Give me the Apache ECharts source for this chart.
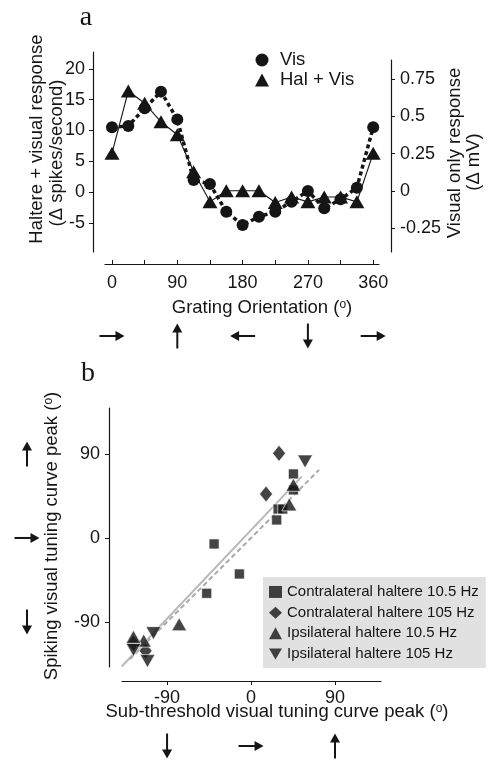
<!DOCTYPE html>
<html><head><meta charset="utf-8">
<script src="https://cdn.jsdelivr.net/npm/echarts@6/dist/echarts.min.js"></script>
<style>html,body{margin:0;padding:0;background:#fff}#c{width:488px;height:760px}</style>
</head><body><div id="c"></div>
<script>
// ---------- Panel a data ----------
const orientations = [0,22.5,45,67.5,90,112.5,135,157.5,180,202.5,225,247.5,270,292.5,315,337.5,360];
const visResponse = [0.427,0.436,0.554,0.666,0.48,0.074,0.047,-0.139,-0.228,-0.172,-0.139,-0.072,0.0,-0.116,-0.056,0.022,0.427];
const halVisResponse = [6.3,16.4,14.4,11.4,9.3,3.3,-1.6,0.2,0.2,0.2,-1.7,-0.8,-1.6,-0.8,-0.8,-1.6,6.3];
const orientationLabels = [0,90,180,270,360];
const orientationTicks = [0,45,90,135,180,225,270,315,360];
const leftTicks = [-5,0,5,10,15,20];
const rightTicks = [-0.25,0,0.25,0.5,0.75];
const orientationArrows = [[0,'right'],[90,'up'],[180,'left'],[270,'down'],[360,'right']];

// ---------- Panel b data ----------
const contra10 = [[-39.6,-6.4],[-12.5,-38.6],[-47.5,-59.3],[27.5,19.3],[29,31],[34,31],[45.4,68.6],[45.4,51.5]];
const contra105 = [[30,90.7],[16.1,47.1],[-126,-113],[-113,-121]];
const ipsi10 = [[45.4,57],[41,36],[-77,-92.5],[-115,-110],[-126,-106]];
const ipsi105 = [[57.9,82],[-104.6,-102],[-126,-120],[-111,-132]];
const fitLine = [[-138.6,-137.8],[54.3,65.7]];
const unityLine = [[-130,-130],[73,73]];
const peakTicks = [-90,0,90];
const peakArrowsX = [[-90,'down'],[0,'right'],[90,'up']];
const peakArrowsY = [[90,'up'],[0,'right'],[-90,'down']];

const SANS = '"Liberation Sans", Arial, Helvetica, sans-serif';
const SERIF = '"Liberation Serif", "Times New Roman", serif';
const INK = '#151515';
const axisText = {color: INK, fontFamily: SANS, fontSize: 18};
const downTri = 'path://M0,0L20,0L10,17Z';

const chart = echarts.init(document.getElementById('c'));

function axisBase(extra) {
  return Object.assign({
    type: 'value',
    splitLine: {show: false},
    axisLine: {show: true, onZero: false, lineStyle: {color: INK, width: 1.2}},
  }, extra);
}

const option = {
  animation: false,
  grid: [
    {left: 105, top: 52, width: 274, height: 200},
    {left: 105, top: 60, width: 274, height: 192},
    {left: 122, top: 408, width: 259, height: 259}
  ],
  xAxis: [
    axisBase({gridIndex: 0, min: -9.65, max: 368, offset: 12,
      axisTick: {show: true, inside: true, length: 4, lineStyle: {color: INK, width: 1}, customValues: orientationTicks},
      axisLabel: Object.assign({show: true, margin: 10, customValues: orientationLabels}, axisText)}),
    axisBase({gridIndex: 1, min: -9.65, max: 368, show: false}),
    axisBase({gridIndex: 2, min: -138.3, max: 139.3, offset: 14,
      axisTick: {show: true, length: 4, lineStyle: {color: INK, width: 1}, customValues: peakTicks},
      axisLabel: Object.assign({show: true, margin: 8, customValues: peakTicks}, axisText)})
  ],
  yAxis: [
    axisBase({gridIndex: 0, position: 'left', min: -9.74, max: 22.73, offset: 12,
      axisTick: {show: true, length: 4, lineStyle: {color: INK, width: 1}, customValues: leftTicks},
      axisLabel: Object.assign({show: true, margin: 8, customValues: leftTicks}, axisText)}),
    axisBase({gridIndex: 1, position: 'right', min: -0.409, max: 0.878, offset: 12,
      axisTick: {show: true, length: 4, lineStyle: {color: INK, width: 1}, customValues: rightTicks},
      axisLabel: Object.assign({show: true, margin: 9, customValues: rightTicks}, axisText)}),
    axisBase({gridIndex: 2, position: 'left', min: -138.3, max: 139.3, offset: 13,
      axisTick: {show: true, length: 4, lineStyle: {color: INK, width: 1}, customValues: peakTicks},
      axisLabel: Object.assign({show: true, margin: 9, customValues: peakTicks}, axisText)})
  ],
  legend: [
    {
      data: [{name: 'Vis', icon: 'circle'}, {name: 'Hal + Vis', icon: 'triangle'}],
      orient: 'vertical', left: 255, top: 50, padding: 0, itemGap: 0,
      itemWidth: 14, itemHeight: 13, selectedMode: false,
      textStyle: {color: INK, fontFamily: SANS, fontSize: 18.5, lineHeight: 20, padding: [0, 0, 0, 6]}
    },
    {
      data: [
        {name: 'Contralateral haltere 10.5 Hz', icon: 'rect'},
        {name: 'Contralateral haltere 105 Hz', icon: 'diamond'},
        {name: 'Ipsilateral haltere 10.5 Hz', icon: 'triangle'},
        {name: 'Ipsilateral haltere 105 Hz', icon: downTri}
      ],
      orient: 'vertical', left: 263, top: 577, padding: [4.6, 7, 3.6, 6], itemGap: 0,
      itemWidth: 13, itemHeight: 12, selectedMode: false,
      backgroundColor: '#e1e1e1',
      itemStyle: {borderWidth: 0},
      textStyle: {color: INK, fontFamily: SANS, fontSize: 15, lineHeight: 20.7}
    }
  ],
  series: [
    {name: 'Vis', type: 'line', xAxisIndex: 1, yAxisIndex: 1,
      data: orientations.map((o, i) => [o, visResponse[i]]),
      symbol: 'circle', symbolSize: 12, showAllSymbol: true,
      itemStyle: {color: INK},
      lineStyle: {color: INK, width: 3.5, type: [4, 3]}},
    {name: 'Hal + Vis', type: 'line', xAxisIndex: 0, yAxisIndex: 0,
      data: orientations.map((o, i) => [o, halVisResponse[i]]),
      symbol: 'triangle', symbolSize: [15, 13], showAllSymbol: true,
      itemStyle: {color: INK},
      lineStyle: {color: INK, width: 1.1}},
    {name: 'fit', type: 'line', xAxisIndex: 2, yAxisIndex: 2, data: fitLine,
      showSymbol: false, symbol: 'none', lineStyle: {color: '#b8b8b8', width: 2}, z: 1},
    {name: 'unity', type: 'line', xAxisIndex: 2, yAxisIndex: 2, data: unityLine,
      showSymbol: false, symbol: 'none', lineStyle: {color: '#a9a9a9', width: 2, type: [5, 3]}, z: 1},
    {name: 'Contralateral haltere 10.5 Hz', type: 'scatter', xAxisIndex: 2, yAxisIndex: 2, data: contra10,
      symbol: 'rect', symbolSize: 10, itemStyle: {color: INK, borderColor: '#fff', borderWidth: 0.8}},
    {name: 'Contralateral haltere 105 Hz', type: 'scatter', xAxisIndex: 2, yAxisIndex: 2, data: contra105,
      symbol: 'diamond', symbolSize: [13, 16], itemStyle: {color: INK, borderColor: '#fff', borderWidth: 0.8}},
    {name: 'Ipsilateral haltere 10.5 Hz', type: 'scatter', xAxisIndex: 2, yAxisIndex: 2, data: ipsi10,
      symbol: 'triangle', symbolSize: [15, 13], itemStyle: {color: INK, borderColor: '#fff', borderWidth: 0.8}},
    {name: 'Ipsilateral haltere 105 Hz', type: 'scatter', xAxisIndex: 2, yAxisIndex: 2, data: ipsi105,
      symbol: downTri, symbolSize: [15, 13], itemStyle: {color: INK, borderColor: '#fff', borderWidth: 0.8}}
  ]
};
chart.setOption(option);

// ---------- decorations: arrows placed through axis scales, and texts ----------
function arrow(cx, cy, dir) {
  const L = 25, hl = 9, hw = 5;
  let shaft, head;
  if (dir === 'right') { shaft = [[cx - L/2, cy], [cx + L/2 - hl + 1, cy]]; head = [[cx + L/2, cy], [cx + L/2 - hl, cy - hw], [cx + L/2 - hl, cy + hw]]; }
  if (dir === 'left')  { shaft = [[cx + L/2, cy], [cx - L/2 + hl - 1, cy]]; head = [[cx - L/2, cy], [cx - L/2 + hl, cy - hw], [cx - L/2 + hl, cy + hw]]; }
  if (dir === 'up')    { shaft = [[cx, cy + L/2], [cx, cy - L/2 + hl - 1]]; head = [[cx, cy - L/2], [cx - hw, cy - L/2 + hl], [cx + hw, cy - L/2 + hl]]; }
  if (dir === 'down')  { shaft = [[cx, cy - L/2], [cx, cy + L/2 - hl + 1]]; head = [[cx, cy + L/2], [cx - hw, cy + L/2 - hl], [cx + hw, cy + L/2 - hl]]; }
  return [
    {type: 'polyline', shape: {points: shaft}, style: {stroke: INK, lineWidth: 2, fill: null}},
    {type: 'polygon', shape: {points: head}, style: {fill: INK}}
  ];
}
const richSup = {s: {fontSize: 12, fontFamily: SANS, fill: INK, verticalAlign: 'top', lineHeight: 7}};
function label(text, x, y, opts) {
  opts = opts || {};
  return {type: 'text', x: x, y: y, rotation: opts.rot || 0,
    style: {text: text, fill: INK, fontFamily: opts.family || SANS, fontSize: opts.size || 18.5,
      textAlign: 'center', textVerticalAlign: 'middle', rich: richSup}};
}

const g = [];
orientationArrows.forEach(([v, d]) => g.push(...arrow(chart.convertToPixel({xAxisIndex: 0}, v), 336, d)));
peakArrowsX.forEach(([v, d]) => g.push(...arrow(chart.convertToPixel({xAxisIndex: 2}, v), 746, d)));
peakArrowsY.forEach(([v, d]) => g.push(...arrow(27, chart.convertToPixel({yAxisIndex: 2}, v), d)));

g.push(label('a', 86, 18, {family: SERIF, size: 28}));
g.push(label('b', 88, 374, {family: SERIF, size: 28}));
g.push(label('Haltere + visual response', 37, 139, {rot: Math.PI / 2}));
g.push(label('(\u0394 spikes/second)', 57, 153, {rot: Math.PI / 2}));
g.push(label('Visual only response', 455, 153, {rot: Math.PI / 2}));
g.push(label('(\u0394 mV)', 474, 162, {rot: Math.PI / 2}));
g.push(label('Grating Orientation ({s|o})', 262, 308));
g.push(label('Spiking visual tuning curve peak ({s|o})', 52, 536, {rot: Math.PI / 2}));
g.push(label('Sub-threshold visual tuning curve peak ({s|o})', 277, 712));

chart.setOption({graphic: {elements: g}});
</script>
</body></html>
